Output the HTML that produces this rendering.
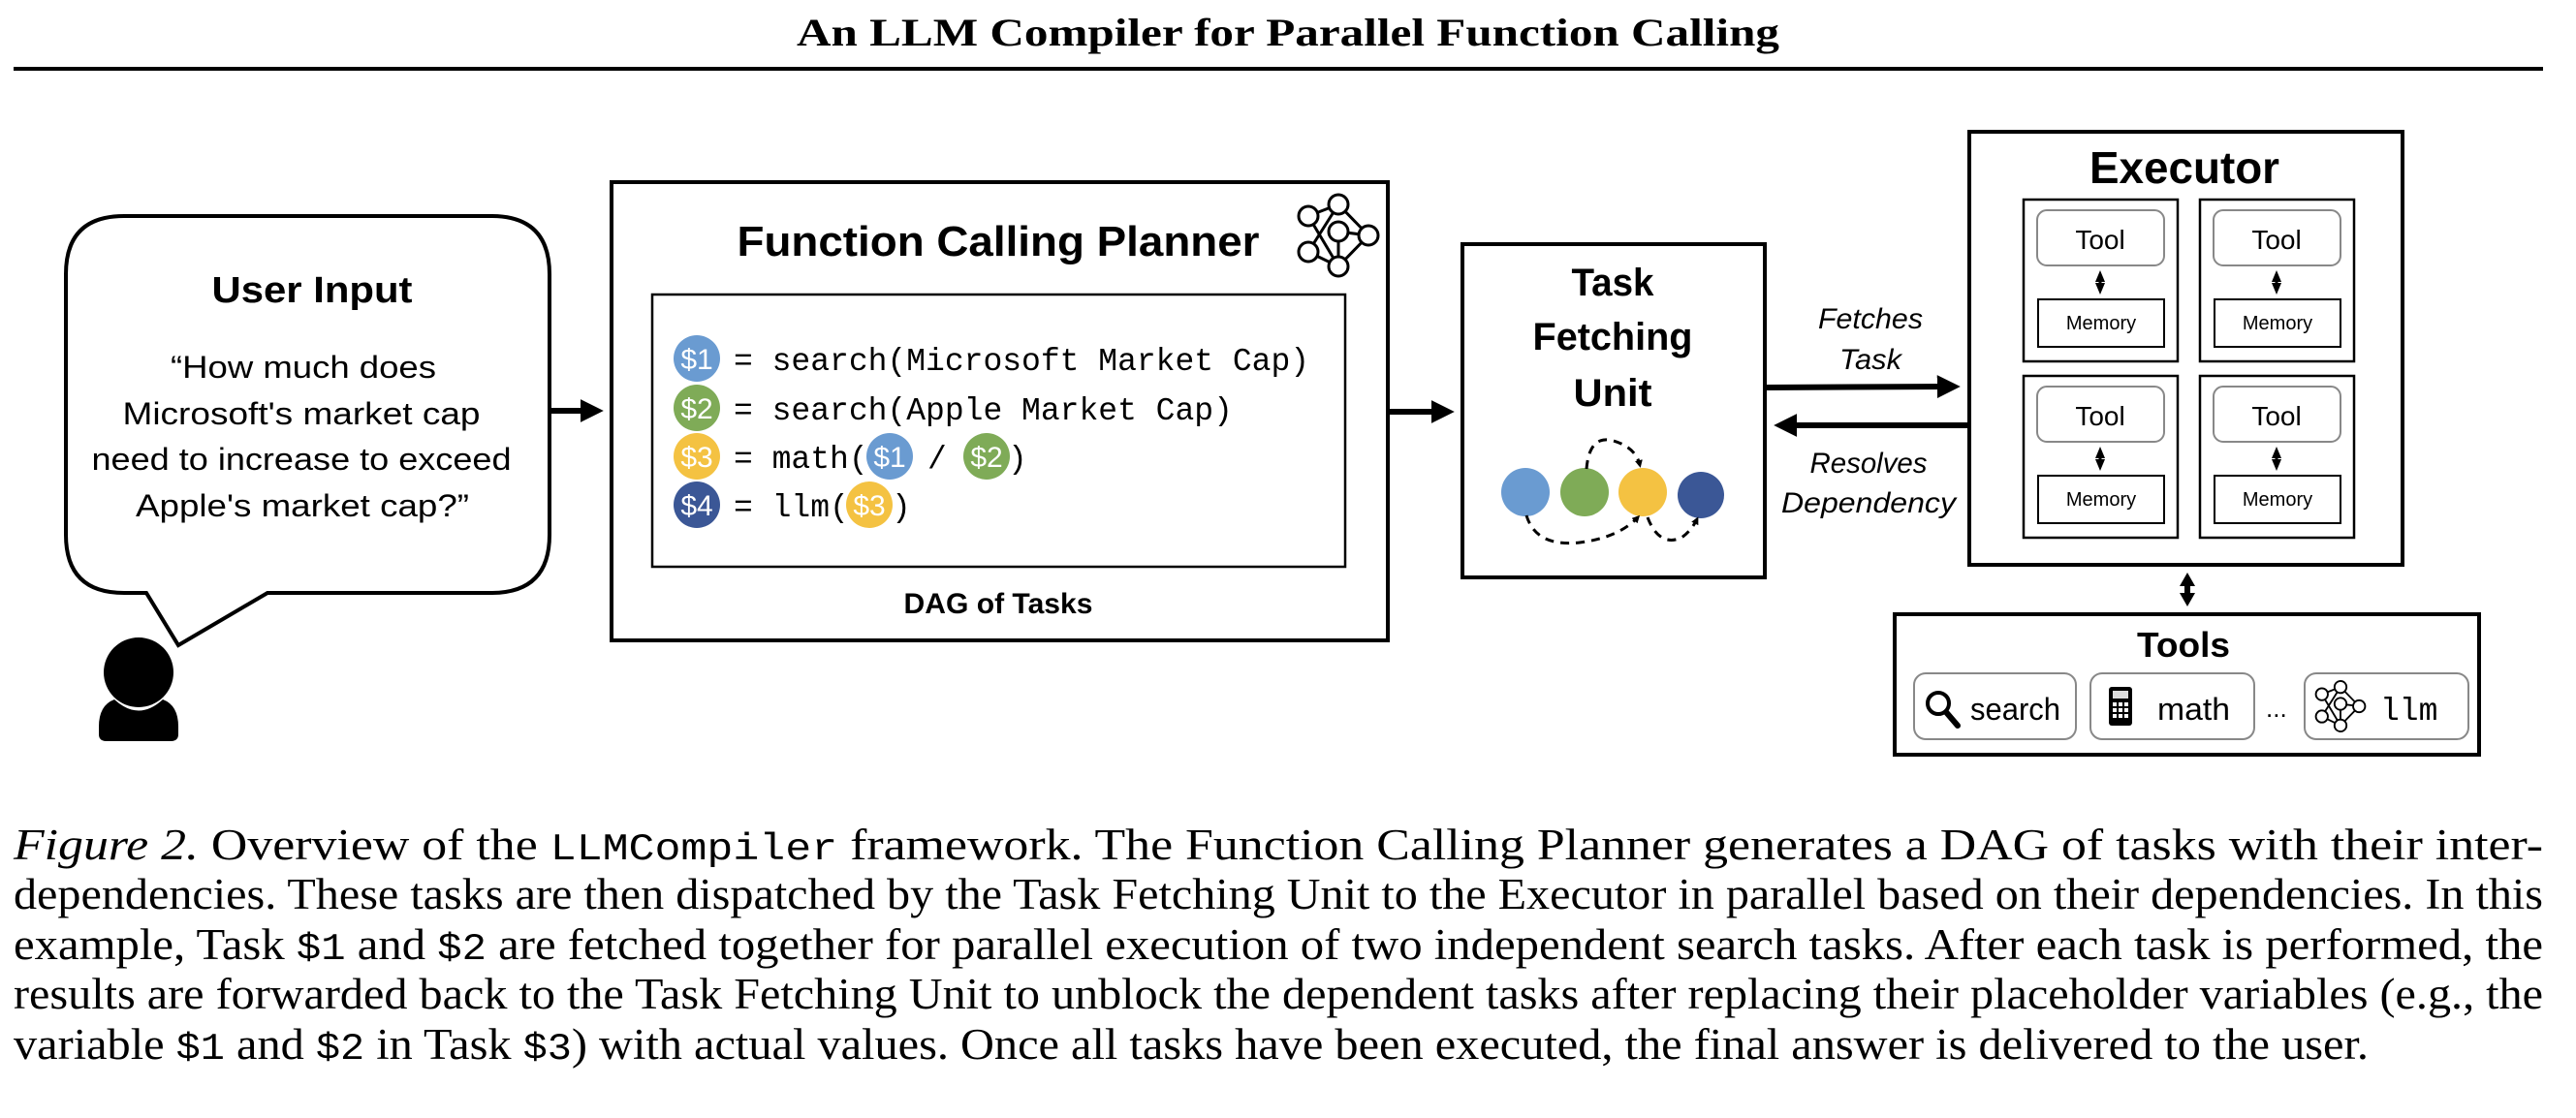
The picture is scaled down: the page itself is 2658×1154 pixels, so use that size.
<!DOCTYPE html>
<html><head><meta charset="utf-8"><style>
html,body{margin:0;padding:0;background:#fff;}
body{width:2658px;height:1154px;position:relative;overflow:hidden;}
svg{position:absolute;left:0;top:0;}
</style></head><body>
<svg width="2658" height="1154" viewBox="0 0 2658 1154" xmlns="http://www.w3.org/2000/svg">
<defs>
<marker id="ah" markerWidth="4" markerHeight="4" refX="2.2" refY="2" orient="auto-start-reverse" markerUnits="strokeWidth"><path d="M0,0 L4,2 L0,4 z" fill="#000"/></marker>
<marker id="ahs" markerWidth="8" markerHeight="8" refX="5" refY="4" orient="auto-start-reverse" markerUnits="userSpaceOnUse"><path d="M0,0 L8,4 L0,8 z" fill="#000"/></marker>
<marker id="ahc" markerWidth="12" markerHeight="12" refX="6" refY="6" orient="auto-start-reverse" markerUnits="userSpaceOnUse"><path d="M0,1 L12,6 L0,11 z" fill="#000"/></marker>
<marker id="ahm" markerWidth="14" markerHeight="16" refX="8" refY="8" orient="auto-start-reverse" markerUnits="userSpaceOnUse"><path d="M0,0 L14,8 L0,16 z" fill="#000"/></marker>
<g id="net" fill="#fff" stroke="#000" stroke-width="3">
<path d="M-31,-20 L0,-32 M-31,-20 L0,32 M-31,17 L0,-32 M-31,17 L0,32 M0,-32 L31,0 M0,-4 L31,0 M0,-4 L0,32 M0,32 L31,0" fill="none"/>
<circle cx="-31" cy="-20" r="10"/><circle cx="0" cy="-32" r="10"/><circle cx="0" cy="-4" r="10"/><circle cx="31" cy="0" r="10"/><circle cx="-31" cy="17" r="10"/><circle cx="0" cy="32" r="10"/>
</g>
</defs>
<text x="1329" y="47" text-anchor="middle" font-family="Liberation Serif" font-weight="bold" font-size="40" textLength="1014" lengthAdjust="spacingAndGlyphs">An LLM Compiler for Parallel Function Calling</text>
<line x1="14" y1="71" x2="2624" y2="71" stroke="#000" stroke-width="4"/>

<path d="M128,223 L507,223 Q567,223 567,283 L567,552 Q567,612 507,612 L276,612 L184,666 L151,612 L128,612 Q68,612 68,552 L68,283 Q68,223 128,223 Z" fill="#fff" stroke="#000" stroke-width="4"/>
<g font-family="Liberation Sans" text-anchor="middle">
<text x="322" y="312" font-weight="bold" font-size="38" textLength="207" lengthAdjust="spacingAndGlyphs">User Input</text>
<text x="313" y="390" font-size="32" textLength="274" lengthAdjust="spacingAndGlyphs">“How much does</text>
<text x="311" y="438" font-size="32" textLength="369" lengthAdjust="spacingAndGlyphs">Microsoft's market cap</text>
<text x="311" y="485" font-size="32" textLength="433" lengthAdjust="spacingAndGlyphs">need to increase to exceed</text>
<text x="312" y="533" font-size="32" textLength="344" lengthAdjust="spacingAndGlyphs">Apple's market cap?”</text>
</g>
<circle cx="143" cy="694" r="36" fill="#000"/>
<path d="M118,722 Q143,745 168,722 Q184,728 184,750 L184,758 Q184,765 176,765 L110,765 Q102,765 102,758 L102,750 Q102,728 118,722 Z" fill="#000"/>

<line x1="567" y1="424" x2="612" y2="424" stroke="#000" stroke-width="6" marker-end="url(#ah)"/>

<rect x="631" y="188" width="801" height="473" fill="#fff" stroke="#000" stroke-width="4"/>
<use href="#net" x="1381" y="243"/>
<text x="1030" y="264" text-anchor="middle" font-family="Liberation Sans" font-weight="bold" font-size="44" textLength="539" lengthAdjust="spacingAndGlyphs">Function Calling Planner</text>
<rect x="673" y="304" width="715" height="281" fill="#fff" stroke="#000" stroke-width="2.5"/>
<g font-family="Liberation Sans" font-size="30" fill="#fff" text-anchor="middle">
<circle cx="719" cy="370" r="24" fill="#6a9bd1"/><text x="719" y="381">$1</text>
<circle cx="719" cy="421" r="24" fill="#7fab57"/><text x="719" y="432">$2</text>
<circle cx="719" cy="471" r="24" fill="#f4c242"/><text x="719" y="482">$3</text>
<circle cx="719" cy="521" r="24" fill="#3b5796"/><text x="719" y="532">$4</text>
<circle cx="918" cy="471" r="24" fill="#6a9bd1"/><text x="918" y="482">$1</text>
<circle cx="1018" cy="471" r="24" fill="#7fab57"/><text x="1018" y="482">$2</text>
<circle cx="897" cy="521" r="24" fill="#f4c242"/><text x="897" y="532">$3</text>
</g>
<g font-family="Liberation Mono" font-size="33">
<text x="757" y="382">= search(Microsoft Market Cap)</text>
<text x="757" y="433">= search(Apple Market Cap)</text>
<text x="757" y="483">= math(</text>
<text x="957" y="483">/</text>
<text x="1040" y="483">)</text>
<text x="757" y="533">= llm(</text>
<text x="920" y="533">)</text>
</g>
<text x="1030" y="633" text-anchor="middle" font-family="Liberation Sans" font-weight="bold" font-size="30" textLength="195" lengthAdjust="spacingAndGlyphs">DAG of Tasks</text>

<line x1="1432" y1="425" x2="1490" y2="425" stroke="#000" stroke-width="6" marker-end="url(#ah)"/>

<rect x="1509" y="252" width="312" height="344" fill="#fff" stroke="#000" stroke-width="4"/>
<g font-family="Liberation Sans" font-weight="bold" font-size="40" text-anchor="middle">
<text x="1664" y="305" textLength="85" lengthAdjust="spacingAndGlyphs">Task</text>
<text x="1664" y="361" textLength="165" lengthAdjust="spacingAndGlyphs">Fetching</text>
<text x="1664" y="419" textLength="81" lengthAdjust="spacingAndGlyphs">Unit</text>
</g>
<circle cx="1574" cy="508" r="25" fill="#6a9bd1"/>
<circle cx="1635" cy="508" r="25" fill="#7fab57"/>
<circle cx="1695" cy="508" r="25" fill="#f4c242"/>
<circle cx="1755" cy="511" r="24" fill="#3b5796"/>
<g fill="none" stroke="#000" stroke-width="3" stroke-dasharray="9,7">
<path d="M1637,484 Q1640,448 1665,455 Q1688,462 1692,480" marker-end="url(#ahs)"/>
<path d="M1575,532 Q1585,565 1630,560 Q1670,555 1690,534" marker-end="url(#ahs)"/>
<path d="M1700,534 Q1712,565 1735,555 Q1745,548 1751,536" marker-end="url(#ahs)"/>
</g>

<line x1="1821" y1="400" x2="2012" y2="399" stroke="#000" stroke-width="6" marker-end="url(#ah)"/>
<line x1="2032" y1="439" x2="1841" y2="439" stroke="#000" stroke-width="6" marker-end="url(#ah)"/>
<g font-family="Liberation Sans" font-style="italic" font-size="30" text-anchor="middle">
<text x="1930" y="339" textLength="108" lengthAdjust="spacingAndGlyphs">Fetches</text>
<text x="1930" y="381" textLength="64" lengthAdjust="spacingAndGlyphs">Task</text>
<text x="1928" y="488" textLength="121" lengthAdjust="spacingAndGlyphs">Resolves</text>
<text x="1928" y="529" textLength="180" lengthAdjust="spacingAndGlyphs">Dependency</text>
</g>

<rect x="2032" y="136" width="447" height="447" fill="#fff" stroke="#000" stroke-width="4"/>
<text x="2254" y="189" text-anchor="middle" font-family="Liberation Sans" font-weight="bold" font-size="46" textLength="196" lengthAdjust="spacingAndGlyphs">Executor</text>
<g id="cell">
<rect x="2088" y="206" width="159" height="167" fill="#fff" stroke="#000" stroke-width="2.5"/>
<rect x="2102" y="217" width="131" height="57" rx="10" fill="#fff" stroke="#888" stroke-width="2"/>
<text x="2167" y="257" text-anchor="middle" font-family="Liberation Sans" font-size="28">Tool</text>
<line x1="2167" y1="285" x2="2167" y2="298" stroke="#000" stroke-width="3" marker-end="url(#ahc)" marker-start="url(#ahc)"/>
<rect x="2103" y="309" width="130" height="49" fill="#fff" stroke="#000" stroke-width="2"/>
<text x="2168" y="340" text-anchor="middle" font-family="Liberation Sans" font-size="20">Memory</text>
</g>
<use href="#cell" x="182" y="0"/>
<use href="#cell" x="0" y="182"/>
<use href="#cell" x="182" y="182"/>

<line x1="2257" y1="597" x2="2257" y2="620" stroke="#000" stroke-width="6" marker-end="url(#ahm)" marker-start="url(#ahm)"/>

<rect x="1955" y="634" width="603" height="145" fill="#fff" stroke="#000" stroke-width="4"/>
<text x="2253" y="678" text-anchor="middle" font-family="Liberation Sans" font-weight="bold" font-size="36" textLength="96" lengthAdjust="spacingAndGlyphs">Tools</text>
<g fill="#fff" stroke="#888" stroke-width="2">
<rect x="1975" y="695" width="167" height="68" rx="12"/>
<rect x="2157" y="695" width="169" height="68" rx="12"/>
<rect x="2378" y="695" width="169" height="68" rx="12"/>
</g>
<circle cx="2000" cy="726" r="11" fill="none" stroke="#000" stroke-width="4"/>
<line x1="2008" y1="735" x2="2020" y2="749" stroke="#000" stroke-width="6" stroke-linecap="round"/>
<rect x="2176" y="709" width="24" height="40" rx="3" fill="#000"/>
<rect x="2180" y="713" width="16" height="8" fill="#ddd"/>
<g fill="#fff"><rect x="2180" y="725" width="4" height="4"/><rect x="2186" y="725" width="4" height="4"/><rect x="2192" y="725" width="4" height="4"/><rect x="2180" y="731" width="4" height="4"/><rect x="2186" y="731" width="4" height="4"/><rect x="2192" y="731" width="4" height="4"/><rect x="2180" y="737" width="4" height="4"/><rect x="2186" y="737" width="4" height="4"/><rect x="2192" y="737" width="4" height="4"/></g>
<g font-family="Liberation Sans" font-size="32">
<text x="2033" y="743" textLength="93" lengthAdjust="spacingAndGlyphs">search</text>
<text x="2226" y="743" textLength="75" lengthAdjust="spacingAndGlyphs">math</text>
<text x="2338" y="740" font-size="26">...</text>
</g>
<use href="#net" transform="translate(2415,729) scale(0.62)"/>
<text x="2456" y="743" font-family="Liberation Mono" font-size="33">llm</text>

<g font-family="Liberation Serif" font-size="45">
<text x="14" y="887" textLength="2610" lengthAdjust="spacingAndGlyphs"><tspan font-style="italic">Figure 2.</tspan> Overview of the <tspan font-family="Liberation Mono" font-size="39">LLMCompiler</tspan> framework.  The Function Calling Planner generates a DAG of tasks with their inter-</text>
<text x="14" y="938" textLength="2610" lengthAdjust="spacingAndGlyphs">dependencies. These tasks are then dispatched by the Task Fetching Unit to the Executor in parallel based on their dependencies. In this</text>
<text x="14" y="990" textLength="2610" lengthAdjust="spacingAndGlyphs">example, Task <tspan font-family="Liberation Mono" font-size="39">$1</tspan> and <tspan font-family="Liberation Mono" font-size="39">$2</tspan> are fetched together for parallel execution of two independent search tasks. After each task is performed, the</text>
<text x="14" y="1041" textLength="2610" lengthAdjust="spacingAndGlyphs">results are forwarded back to the Task Fetching Unit to unblock the dependent tasks after replacing their placeholder variables (e.g., the</text>
<text x="14" y="1093" textLength="2430" lengthAdjust="spacingAndGlyphs">variable <tspan font-family="Liberation Mono" font-size="39">$1</tspan> and <tspan font-family="Liberation Mono" font-size="39">$2</tspan> in Task <tspan font-family="Liberation Mono" font-size="39">$3</tspan>) with actual values. Once all tasks have been executed, the final answer is delivered to the user.</text>
</g>
</svg>
</body></html>
